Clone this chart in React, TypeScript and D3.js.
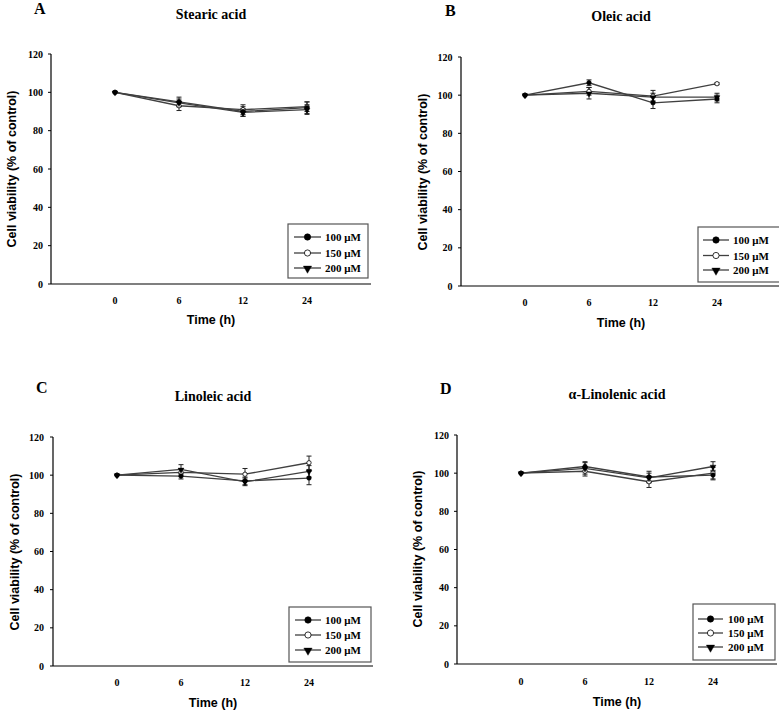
import React from "react";
import * as d3 from "d3";

// ---- data ----
const times = ["0", "6", "12", "24"];
const concentrations = ["100 μM", "150 μM", "200 μM"];
const yTicks = [0, 20, 40, 60, 80, 100, 120];

const stearic100 = [100, 95, 90, 92];
const stearic150 = [100, 93, 91, 92.5];
const stearic200 = [100, 94.5, 89.5, 91];
const stearicErr100 = [0, 2.5, 2.5, 3];
const stearicErr150 = [0, 2.5, 2.5, 2.5];
const stearicErr200 = [0, 2, 2, 2.5];

const oleic100 = [100, 106.5, 96, 98];
const oleic150 = [100, 102, 99.5, 106];
const oleic200 = [100, 101, 99, 99];
const oleicErr100 = [0, 1.5, 3, 2];
const oleicErr150 = [0, 2, 3, 0.5];
const oleicErr200 = [0, 3, 2, 2];

const linoleic100 = [100, 99.5, 97, 98.5];
const linoleic150 = [100, 101.5, 100.5, 106.5];
const linoleic200 = [100, 103, 96.5, 102];
const linoleicErr100 = [0, 1.5, 2, 3.5];
const linoleicErr150 = [0, 2, 3, 3.5];
const linoleicErr200 = [0, 2.5, 2, 3];

const linolenic100 = [100, 103.5, 98, 99];
const linolenic150 = [100, 101, 95.5, 100];
const linolenic200 = [100, 102.5, 97.5, 103.5];
const linolenicErr100 = [0, 2.5, 3, 2.5];
const linolenicErr150 = [0, 2.5, 3, 3];
const linolenicErr200 = [0, 3, 2.5, 2.5];

const panelLetters = ["A", "B", "C", "D"];
const panelTitles = ["Stearic acid", "Oleic acid", "Linoleic acid", "α-Linolenic acid"];
const panelValues = [
  [stearic100, stearic150, stearic200],
  [oleic100, oleic150, oleic200],
  [linoleic100, linoleic150, linoleic200],
  [linolenic100, linolenic150, linolenic200],
];
const panelErrors = [
  [stearicErr100, stearicErr150, stearicErr200],
  [oleicErr100, oleicErr150, oleicErr200],
  [linoleicErr100, linoleicErr150, linoleicErr200],
  [linolenicErr100, linolenicErr150, linolenicErr200],
];

// ---- layout ----
const layouts = [
  { x0: 51, x1: 371, y0: 284, y1: 54, letterX: 34, letterY: 14, titleX: 211, titleY: 19,
    tickY: 303.5, xlabY: 324, ylabX: 16, ylabY: 169, tickRight: 43,
    leg: { x: 288, y: 224, w: 80, h: 54, rows: [237, 253, 268], l0: 294, l1: 321, tx: 325 } },
  { x0: 461, x1: 781, y0: 286, y1: 57, letterX: 445, letterY: 16, titleX: 621, titleY: 20.5,
    tickY: 305.5, xlabY: 327, ylabX: 426.5, ylabY: 172, tickRight: 452.5,
    leg: { x: 698, y: 227, w: 84, h: 55, rows: [240, 255.5, 270], l0: 703, l1: 729, tx: 733 } },
  { x0: 53, x1: 373, y0: 666, y1: 437, letterX: 36, letterY: 392.5, titleX: 213, titleY: 401,
    tickY: 686, xlabY: 707, ylabX: 18.5, ylabY: 552, tickRight: 44,
    leg: { x: 289, y: 607, w: 82, h: 55, rows: [620, 635, 650], l0: 295, l1: 321, tx: 325 } },
  { x0: 457, x1: 777, y0: 664, y1: 435, letterX: 440, letterY: 394, titleX: 617, titleY: 399,
    tickY: 685, xlabY: 706, ylabX: 421.5, ylabY: 549, tickRight: 449,
    leg: { x: 693, y: 604, w: 82, h: 56, rows: [619, 633, 647], l0: 698, l1: 723, tx: 728 } },
];

const SERIF = "'Liberation Serif', 'Times New Roman', serif";
const SANS = "'Liberation Sans', Arial, sans-serif";
const LINE_COLOR = "#404040";

function Marker({ kind, x, y, scale }: { kind: number; x: number; y: number; scale: number }) {
  if (kind === 0) {
    return <circle cx={x} cy={y} r={3.2 * scale} fill="#000" stroke="#000" strokeWidth={0.6} />;
  }
  if (kind === 1) {
    return <circle cx={x} cy={y} r={3.1 * scale} fill="#fff" stroke="#000" strokeWidth={0.8} />;
  }
  const p = d3.symbol().type(d3.symbolTriangle).size(30 * scale * scale)();
  return (
    <path d={p as string} transform={`translate(${x},${y + 0.5 * scale}) rotate(180)`} fill="#000" stroke="#000" strokeWidth={0.4} />
  );
}

function Panel({ idx }: { idx: number }) {
  const L = layouts[idx];
  const x = d3.scalePoint<string>().domain(times).range([L.x0, L.x1]).padding(1);
  const y = d3.scaleLinear().domain([0, 120]).range([L.y0, L.y1]);
  const line = d3
    .line<number>()
    .x((_, i) => x(times[i]) as number)
    .y((d) => y(d));
  const values = panelValues[idx];
  const errors = panelErrors[idx];
  const order = [1, 2, 0];

  return (
    <g>
      <text x={L.letterX} y={L.letterY} fontFamily={SERIF} fontWeight="bold" fontSize={16}>
        {panelLetters[idx]}
      </text>
      <text x={L.titleX} y={L.titleY} textAnchor="middle" fontFamily={SERIF} fontWeight="bold" fontSize={14}>
        {panelTitles[idx]}
      </text>

      {/* lines */}
      {order.map((s) => (
        <path key={"l" + s} d={line(values[s]) as string} fill="none" stroke={LINE_COLOR} strokeWidth={1.3} />
      ))}
      {/* error bars */}
      {order.map((s) =>
        values[s].map((v, i) => {
          const e = errors[s][i];
          if (!e) return null;
          const cx = x(times[i]) as number;
          return (
            <g key={`e${s}-${i}`} stroke="#222" strokeWidth={1}>
              <line x1={cx} x2={cx} y1={y(v - e)} y2={y(v + e)} />
              <line x1={cx - 2.5} x2={cx + 2.5} y1={y(v - e)} y2={y(v - e)} />
              <line x1={cx - 2.5} x2={cx + 2.5} y1={y(v + e)} y2={y(v + e)} />
            </g>
          );
        })
      )}
      {/* markers */}
      {order.map((s) =>
        values[s].map((v, i) => (
          <Marker key={`m${s}-${i}`} kind={s} x={x(times[i]) as number} y={y(v)} scale={0.7} />
        ))
      )}

      {/* axes */}
      <line x1={L.x0} x2={L.x1} y1={L.y0} y2={L.y0} stroke="#000" strokeWidth={1.2} />
      <line x1={L.x0} x2={L.x0} y1={L.y0} y2={L.y1} stroke="#000" strokeWidth={1.2} />
      {yTicks.map((t) => (
        <g key={"yt" + t}>
          <line x1={L.x0 - 3} x2={L.x0} y1={y(t)} y2={y(t)} stroke="#000" strokeWidth={1} />
          <text x={L.tickRight} y={y(t) + 3.5} textAnchor="end" fontFamily={SERIF} fontWeight="bold" fontSize={10}>
            {t}
          </text>
        </g>
      ))}
      {times.map((t) => (
        <text key={"xt" + t} x={x(t) as number} y={L.tickY} textAnchor="middle" fontFamily={SERIF} fontWeight="bold" fontSize={10}>
          {t}
        </text>
      ))}
      <text x={(L.x0 + L.x1) / 2} y={L.xlabY} textAnchor="middle" fontFamily={SANS} fontWeight="bold" fontSize={12.5}>
        Time (h)
      </text>
      <text
        transform={`translate(${L.ylabX},${L.ylabY}) rotate(-90)`}
        textAnchor="middle"
        fontFamily={SANS}
        fontWeight="bold"
        fontSize={12.5}
      >
        Cell viability (% of control)
      </text>

      {/* legend */}
      <rect x={L.leg.x} y={L.leg.y} width={L.leg.w} height={L.leg.h} fill="#fff" stroke="#555" strokeWidth={1.2} />
      {concentrations.map((c, s) => {
        const ry = L.leg.rows[s];
        return (
          <g key={"lg" + s}>
            <line x1={L.leg.l0} x2={L.leg.l1} y1={ry} y2={ry} stroke={LINE_COLOR} strokeWidth={1.3} />
            <Marker kind={s} x={(L.leg.l0 + L.leg.l1) / 2} y={ry} scale={1} />
            <text x={L.leg.tx} y={ry + 4} fontFamily={SERIF} fontWeight="bold" fontSize={11}>
              {c}
            </text>
          </g>
        );
      })}
    </g>
  );
}

export default function App() {
  return (
    <svg
      width={779}
      height={713}
      viewBox="0 0 779 713"
      style={{ position: "absolute", left: 0, top: 0, background: "#fff" }}
    >
      <rect width={779} height={713} fill="#fff" />
      {[0, 1, 2, 3].map((i) => (
        <Panel key={i} idx={i} />
      ))}
    </svg>
  );
}
